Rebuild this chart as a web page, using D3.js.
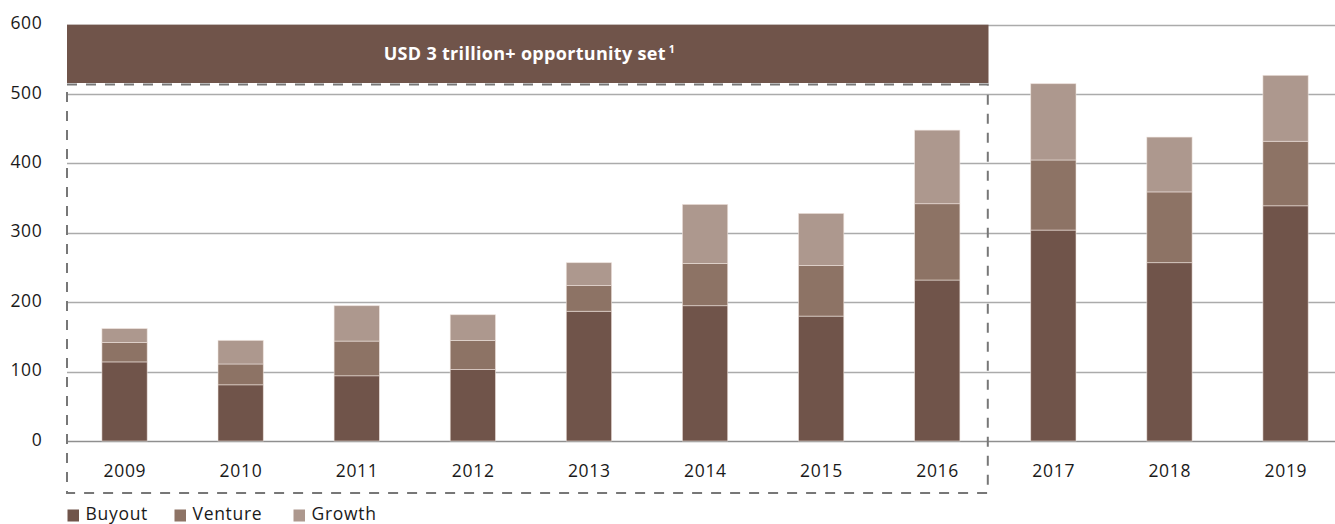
<!DOCTYPE html>
<html>
<head>
<meta charset="utf-8">
<script src="https://cdn.jsdelivr.net/npm/d3@7"></script>
<style>
  html, body { margin: 0; padding: 0; background: #fff; }
  svg { display: block; font-family: "Open Sans", "Noto Sans", sans-serif; }
</style>
</head>
<body>
<svg id="chart" width="1335" height="524"></svg>
<script>
// Private markets investment by strategy, USD bn
const years = ["2009", "2010", "2011", "2012", "2013", "2014", "2015", "2016", "2017", "2018", "2019"];
const buyout  = [114, 81, 94, 103, 187, 195, 180, 232, 304, 257, 339];
const venture = [28, 30, 50, 42, 37, 61, 73, 110, 101, 102, 93];
const growth  = [20, 34, 51, 37, 33, 85, 75, 106, 110, 79, 95];
const seriesNames = ["Buyout", "Venture", "Growth"];
const yTicks = [0, 100, 200, 300, 400, 500, 600];
const bannerText = "USD 3 trillion+ opportunity set";
const bannerNote = "1";
const bannerYears = ["2009", "2016"];

const colors = { Buyout: "#70544a", Venture: "#8d7365", Growth: "#ad988e" };
const textColor = "#1a1a1a";
const labelSize = 17.5;
const labelSpacing = 0.7;

const svg = d3.select("#chart");

const x = d3.scaleBand().domain(years).range([66.5, 1343.6]).paddingInner(0.61).paddingOuter(0.305);
const y = d3.scaleLinear().domain([0, 600]).range([441, 24.7]);

const rows = years.map((yr, i) => ({ year: yr, Buyout: buyout[i], Venture: venture[i], Growth: growth[i] }));
const stacked = d3.stack().keys(seriesNames)(rows);

// horizontal gridlines
const gridLeft = 67;
svg.append("g").selectAll("line").data(yTicks).join("line")
  .attr("x1", gridLeft).attr("x2", 1335)
  .attr("y1", d => Math.round(y(d)) + 0.5).attr("y2", d => Math.round(y(d)) + 0.5)
  .attr("stroke", d => d === 0 ? "#8f8f8f" : "#ababab")
  .attr("stroke-width", 1.4);

// y tick labels
svg.append("g").selectAll("text").data(yTicks).join("text")
  .attr("x", 42.5).attr("y", d => y(d) + 4.5)
  .attr("text-anchor", "end")
  .attr("font-size", labelSize)
  .attr("letter-spacing", labelSpacing)
  .attr("fill", textColor)
  .text(d => d);

// stacked bars
svg.append("g").selectAll("g").data(stacked).join("g")
  .attr("fill", d => colors[d.key])
  .selectAll("rect").data(d => d).join("rect")
  .attr("x", d => x(d.data.year))
  .attr("width", x.bandwidth())
  .attr("y", d => y(d[1]))
  .attr("height", d => y(d[0]) - y(d[1]))
  .attr("stroke", "rgba(240,228,222,0.7)")
  .attr("stroke-width", 0.8);

// x category labels
svg.append("g").selectAll("text").data(years).join("text")
  .attr("x", d => x(d) + x.bandwidth() / 2 + labelSpacing / 2)
  .attr("y", 476.7)
  .attr("text-anchor", "middle")
  .attr("font-size", labelSize)
  .attr("letter-spacing", labelSpacing)
  .attr("fill", textColor)
  .text(d => d);

// highlighted period: banner and dashed frame
const step = x.step();
const frameLeft = 67;
const frameRight = x(bannerYears[1]) + x.bandwidth() / 2 + step / 2 - 7.5;
const bannerBottom = 83;

svg.append("rect")
  .attr("x", frameLeft).attr("y", y(600))
  .attr("width", frameRight - frameLeft + 0.7)
  .attr("height", bannerBottom - y(600))
  .attr("fill", "#70544a");

svg.append("path")
  .attr("d", `M${frameLeft},84.5 H${frameRight} V493 H${frameLeft} Z`)
  .attr("fill", "none")
  .attr("stroke", "#777")
  .attr("stroke-width", 2)
  .attr("stroke-dasharray", "10,9");

const bannerLabel = svg.append("text")
  .attr("x", (frameLeft + frameRight) / 2 + 2)
  .attr("y", 59.5)
  .attr("text-anchor", "middle")
  .attr("font-size", 18)
  .attr("letter-spacing", 0.3)
  .attr("font-weight", "bold")
  .attr("fill", "#fff");
bannerLabel.append("tspan").text(bannerText);
bannerLabel.append("tspan").attr("font-size", 10.5).attr("dx", 3).attr("dy", -7).text(bannerNote);

// legend
const legendX = [67.5, 174.5, 293.5];
const legend = svg.append("g").selectAll("g").data(seriesNames).join("g")
  .attr("transform", (d, i) => `translate(${legendX[i]},509.5)`);
legend.append("rect").attr("width", 11.5).attr("height", 12).attr("fill", d => colors[d]);
legend.append("text").attr("x", 18).attr("y", 10.5)
  .attr("font-size", labelSize).attr("letter-spacing", labelSpacing)
  .attr("fill", textColor).text(d => d);
</script>
</body>
</html>
